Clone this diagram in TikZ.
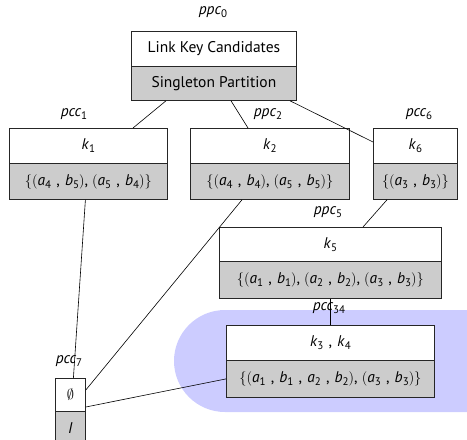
\documentclass[tikz,border=0pt]{standalone}
\usepackage{fontspec}
\setmainfont{PT Sans}
\newcommand\low[1]{\raisebox{-3pt}{\fontsize{11}{11}\selectfont\upshape #1}}
\newcommand\sym[2]{\textit{#1}\low{#2}}
\newcommand\pr[2]{$($\sym{a}{#1}\,\,,\,\,\sym{b}{#2}$)$}
\newcommand\lb{$\{$}
\newcommand\rb{$\}$}
\begin{document}
\begin{tikzpicture}[x=1pt,y=-1pt,
  font=\fontsize{15.5}{18}\selectfont,
  part/.style={draw=black!85, line width=0.8pt, minimum height=35pt, inner sep=0pt, anchor=north west},
  head/.style={part, fill=white},
  body/.style={part, fill=black!20},
  tag/.style={font=\fontsize{15.5}{18}\selectfont\itshape},
  link/.style={line width=0.6pt}]
\useasboundingbox (0,0) rectangle (467,440);
\begin{scope}
\clip (0,0) rectangle (467,440);
% highlighted group
\fill[blue!20, rounded corners=51pt] (174,310) rectangle (580,412);
% bottom element
\node[head, minimum width=30pt, minimum height=33pt] (e) at (55,378) {$\emptyset$};
\node[body, minimum width=30pt, minimum height=34pt] (es) at (55,411) {\textit{I}};
\end{scope}
% root
\node[head, minimum width=165pt] (top) at (131,31) {Link Key Candidates};
\node[body, minimum width=165pt, minimum height=34pt] (tops) at (131,66) {Singleton Partition};
% second level
\node[head, minimum width=158pt] (k1) at (9,128) {\sym{k}{1}};
\node[body, minimum width=158pt, minimum height=36pt] (k1s) at (9,163) {\lb\pr{4}{5}, \pr{5}{4}\rb};
\node[head, minimum width=159pt] (k2) at (190,128) {\sym{k}{2}};
\node[body, minimum width=159pt, minimum height=36pt] (k2s) at (190,163) {\lb\pr{4}{4}, \pr{5}{5}\rb};
\node[head, minimum width=84pt] (k6) at (373,128) {\sym{k}{6}};
\node[body, minimum width=84pt, minimum height=36pt] (k6s) at (373,163) {\lb\pr{3}{3}\rb};
% third level
\node[head, minimum width=222pt, minimum height=34pt] (k5) at (219,227) {\sym{k}{5}};
\node[body, minimum width=222pt, minimum height=37pt] (k5s) at (219,261) {\lb\pr{1}{1}, \pr{2}{2}, \pr{3}{3}\rb};
\node[head, minimum width=208pt] (k34) at (226,325) {\sym{k}{3}\,\,,\,\,\sym{k}{4}};
\node[body, minimum width=208pt, minimum height=37pt] (k34s) at (226,360) {\lb$($\sym{a}{1}\,\,,\,\,\sym{b}{1}\,\,,\,\,\sym{a}{2}\,\,,\,\,\sym{b}{2}$)$, \pr{3}{3}\rb};
% labels
\node[tag] (l0) at (213,12) {ppc\low{0}};
\node[tag] (l1) at (74,114) {pcc\low{1}};
\node[tag] (l2) at (268,114) {ppc\low{2}};
\node[tag] (l6) at (419,114) {pcc\low{6}};
\node[tag] (l5) at (328,212) {ppc\low{5}};
\node[tag] (l34) at (329,308) {pcc\low{34}};
\node[tag] (l7) at (69,361) {pcc\low{7}};
% connectors
\draw[link] ([xshift=35pt]tops.south west) -- ([xshift=124pt]k1.north west);
\draw[link] ([xshift=100pt]tops.south west) -- ([xshift=58pt]k2.north west);
\draw[link] ([xshift=159pt]tops.south west) -- ([yshift=-14pt]k6.north west);
\draw[link] ([xshift=-3pt]k1s.south) -- ([xshift=3pt]e.north);
\draw[link] ([xshift=52pt]k2s.south west) -- ([yshift=-12pt]e.north east);
\draw[link] ([xshift=14pt]k6s.south west) -- ([xshift=144pt]k5.north west);
\draw[link] (k5s.south) -- (k34.north);
\draw[link] (k34s.west) -- ([yshift=-29pt]e.north east);
\end{tikzpicture}
\end{document}
